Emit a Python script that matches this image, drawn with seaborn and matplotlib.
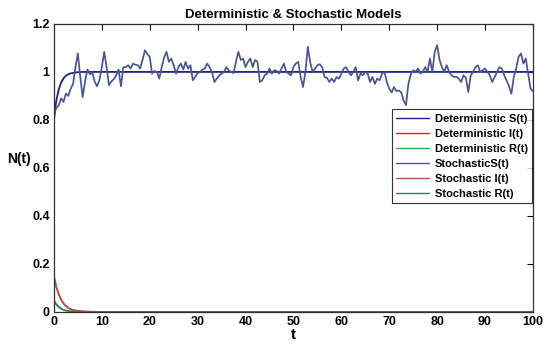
import numpy as np
import pandas as pd
import matplotlib
matplotlib.use("Agg")
import matplotlib.pyplot as plt
import seaborn as sns

# ---- data ----
t_det = [0, 0.5, 1, 1.5, 2, 2.5, 3, 3.5, 4, 5, 6, 8, 10, 100]
det_S = [0.80, 0.88, 0.926, 0.955, 0.973, 0.984, 0.990, 0.994, 0.996, 0.999, 1.0, 1.0, 1.0, 1.0]
det_I = [0.15, 0.105, 0.075, 0.052, 0.036, 0.025, 0.017, 0.012, 0.008, 0.004, 0.002, 0.0005, 0.0, 0.0]
det_R = [0.05, 0.033, 0.022, 0.014, 0.009, 0.006, 0.004, 0.0025, 0.0015, 0.0006, 0.0002, 0.0, 0.0, 0.0]
sto_I = [0.145, 0.102, 0.073, 0.050, 0.035, 0.024, 0.016, 0.011, 0.008, 0.004, 0.002, 0.0005, 0.0, 0.0]
sto_R = [0.045, 0.030, 0.020, 0.013, 0.008, 0.005, 0.0035, 0.002, 0.0013, 0.0005, 0.0002, 0.0, 0.0, 0.0]

t_sto = [i * 0.5 for i in range(201)]
sto_S = [
    0.82, 0.85, 0.86, 0.89, 0.875, 0.91, 0.90, 0.93, 0.95, 1.02,
    1.077, 0.98, 0.895, 0.96, 1.01, 0.99, 1.0, 0.96, 0.94, 0.965,
    1.02, 1.084, 1.02, 0.945, 0.96, 0.97, 0.985, 1.01, 0.94, 1.02,
    1.02, 1.028, 1.014, 1.035, 1.03, 1.028, 1.014, 1.05, 1.09, 1.075,
    1.063, 0.993, 1.004, 1.0, 0.972, 1.02, 1.06, 1.084, 1.042, 1.056,
    1.028, 0.993, 1.02, 1.035, 1.01, 1.042, 1.014, 1.028, 0.965, 0.98,
    0.995, 1.0, 1.01, 1.014, 1.035, 1.02, 1.0, 0.958, 0.972, 0.985,
    0.993, 1.0, 1.02, 1.007, 1.0, 0.995, 1.042, 1.084, 1.05, 1.056,
    1.02, 1.042, 1.056, 1.02, 1.05, 1.042, 0.958, 0.965, 0.986, 0.993,
    1.014, 0.993, 1.007, 1.004, 0.993, 1.014, 1.035, 1.0, 0.993, 0.986,
    1.02, 1.035, 1.042, 0.98, 0.937, 1.0, 1.105, 1.04, 1.0, 1.014,
    1.028, 1.032, 1.02, 0.979, 0.975, 0.958, 0.972, 0.958, 0.979, 0.972,
    0.993, 1.014, 1.02, 1.0, 0.986, 1.0, 1.02, 0.965, 0.993, 0.986,
    1.0, 0.993, 0.958, 0.979, 0.95, 0.972, 0.965, 0.993, 1.0, 0.958,
    0.93, 0.915, 0.937, 0.92, 0.923, 0.915, 0.88, 0.862, 0.95, 0.99,
    1.007, 1.0, 1.014, 0.993, 1.0, 1.02, 1.0, 1.056, 1.0, 1.084,
    1.112, 1.05, 1.02, 1.0, 1.028, 1.0, 0.986, 0.979, 0.98, 0.972,
    0.958, 0.986, 0.975, 0.916, 0.985, 1.0, 1.02, 1.028, 1.0, 1.007,
    1.014, 1.0, 0.986, 0.958, 0.979, 1.0, 1.02, 1.014, 0.986, 0.965,
    0.94, 0.909, 0.979, 1.014, 1.063, 1.077, 1.035, 1.056, 0.993, 0.93,
    0.92,
]

x_ticks = [0, 10, 20, 30, 40, 50, 60, 70, 80, 90, 100]
y_ticks = [0, 0.2, 0.4, 0.6, 0.8, 1.0, 1.2]
y_tick_labels = ["0", "0.2", "0.4", "0.6", "0.8", "1", "1.2"]

sns.set_style("white")
plt.rcParams['font.family'] = ['Liberation Sans', 'DejaVu Sans']
plt.rcParams['text.color'] = 'black'
plt.rcParams['axes.labelcolor'] = 'black'

fig = plt.figure(figsize=(5.5, 3.52), dpi=100)
ax = fig.add_axes([0.098, 0.114, 0.871, 0.818])

series = [
    (t_det, det_S, "Deterministic S(t)", "#1f1f8f", 1.3),
    (t_det, det_I, "Deterministic I(t)", "#e62020", 1.1),
    (t_det, det_R, "Deterministic R(t)", "#1fb04a", 1.1),
    (t_sto, sto_S, "StochasticS(t)", "#4a5590", 1.25),
    (t_det, sto_I, "Stochastic I(t)", "#b5524a", 1.1),
    (t_det, sto_R, "Stochastic R(t)", "#3d7a55", 1.1),
]
for tx, vals, lab, col, lw in series:
    df = pd.DataFrame({"t": tx, "N": vals})
    sns.lineplot(data=df, x="t", y="N", ax=ax, color=col, linewidth=lw, label=lab)

ax.set_xlim(0, 100)
ax.set_ylim(0, 1.2)
ax.set_xticks(x_ticks)
ax.set_yticks(y_ticks)
ax.set_yticklabels(y_tick_labels)
ax.tick_params(direction="in", top=True, right=True, length=4, width=0.8,
               labelsize=9, pad=3, colors="black")
for lbl in ax.get_xticklabels() + ax.get_yticklabels():
    lbl.set_fontweight("bold")
for sp in ax.spines.values():
    sp.set_color("#303030")
    sp.set_linewidth(0.9)

ax.set_xlabel("t", fontsize=11, fontweight="bold", labelpad=0, color="black")
ax.set_ylabel("N(t)", fontsize=10, fontweight="bold", rotation=0, color="black",
              va="center", ha="center")
ax.yaxis.set_label_coords(-0.072, 0.53)
ax.set_title("Deterministic & Stochastic Models", fontsize=9.5, fontweight="bold",
             pad=4, color="black")

leg = ax.legend(loc="upper right", bbox_to_anchor=(0.999, 0.703),
                prop={"weight": "bold", "size": 8}, frameon=True, fancybox=False,
                handlelength=3.0, handletextpad=0.5, labelspacing=0.45,
                borderpad=0.4, borderaxespad=0)
leg.get_frame().set_edgecolor("black")
leg.get_frame().set_linewidth(0.8)
for txt in leg.get_texts():
    txt.set_color("black")
for line in leg.get_lines():
    line.set_linewidth(1.0)

fig.savefig("out.png", dpi=100, facecolor="white")
